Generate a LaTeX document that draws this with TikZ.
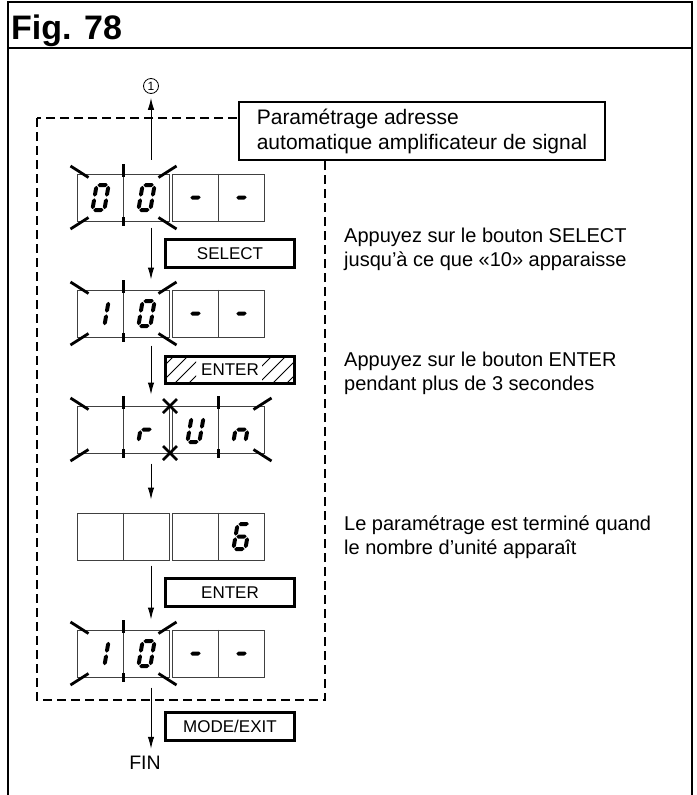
\documentclass[tikz,border=0pt]{standalone}
\usepackage{fontspec}
\setmainfont{Liberation Sans}
\usetikzlibrary{arrows.meta, positioning, calc}

% seven segment pieces (local units, y down, centre of digit = origin)
\newcommand{\hseg}[1]{\fill (-5.2,#1) -- (-3.2,{#1-2}) -- (3.2,{#1-2}) -- (5.2,#1) -- (3.2,{#1+2}) -- (-3.2,{#1+2}) -- cycle;}
\newcommand{\vseg}[3]{\fill (#1,{#2+0.8}) -- ({#1+2},{#2+2.8}) -- ({#1+2},{#3-2.8}) -- (#1,{#3-0.8}) -- ({#1-2},{#3-2.8}) -- ({#1-2},{#2+2.8}) -- cycle;}
\newcommand{\sega}{\hseg{-12.5}}
\newcommand{\segg}{\hseg{0}}
\newcommand{\segd}{\hseg{12.5}}
\newcommand{\segb}{\vseg{6}{-12.5}{0}}
\newcommand{\segc}{\vseg{6}{0}{12.5}}
\newcommand{\sege}{\vseg{-6}{0}{12.5}}
\newcommand{\segf}{\vseg{-6}{-12.5}{0}}
\newcommand{\lcd}[3]{\begin{scope}[shift={(#1,#2)}, xslant=0.17]
  \foreach \s in {#3} {\csname seg\s\endcsname}
\end{scope}}

% blinking marks: left, right, top, bottom, middle lines
\newcommand{\blink}[5]{%
  \draw[tick] ({#1-7},{#3-8}) -- ({#1+11},{#3+3.5});
  \draw[tick] ({#2+7},{#3-8}) -- ({#2-11},{#3+3.5});
  \draw[tick] ({#1-7},{#4+8}) -- ({#1+11},{#4-3.5});
  \draw[tick] ({#2+7},{#4+8}) -- ({#2-11},{#4-3.5});
  \foreach \m in {#5} {
    \draw[tick] (\m,{#3-10}) -- (\m,{#3+3});
    \draw[tick] (\m,{#4-4}) -- (\m,{#4+5});
  }}

\tikzset{
  frame/.style={line width=1.5},
  zone/.style={line width=1.2, dash pattern=on 9pt off 5pt},
  cellbox/.style={draw=black!75, line width=1, minimum width=92, minimum height=47, inner sep=0},
  cellline/.style={draw=black!75, line width=1},
  tick/.style={line width=2.8},
  flow/.style={line width=1, -{Latex[length=12pt, width=6.5pt]}},
  button/.style={draw, line width=2.6, minimum width=129.5, minimum height=27.5, inner sep=0, font=\fontsize{17}{20}\selectfont},
  note/.style={anchor=west, align=left, inner sep=0, font=\fontsize{20}{24.5}\selectfont},
  titlebox/.style={draw, fill=white, line width=1.2, minimum width=366, minimum height=58, inner xsep=17, align=left, font=\fontsize{21}{25}\selectfont}
}

\begin{document}
\begin{tikzpicture}[x=1pt, y=-1pt]
    \useasboundingbox (0,0) rectangle (696,795);

    % Frame & header
    \draw[frame] (8,795) -- (8,2) -- (692,2) -- (692,795);
    \draw[frame] (8,48) -- (692,48);
    \node[anchor=base west, inner sep=0, font=\bfseries\fontsize{34}{40}\selectfont] (fig) at (11,39) {Fig. 78};

    % Dashed zone and its title
    \draw[zone] (37,118) rectangle (325,700);
    \node[titlebox] (title) at (422,131) {Paramétrage adresse\\automatique amplificateur de signal};

    % Displays: two boxes of two cells each
    \foreach \n/\y in {1/197.5, 2/313.5, 3/429.5, 4/536.5, 5/653.5} {
        \node[cellbox] (d\n a) at (123.5,\y) {};
        \node[cellbox] (d\n b) at (218.5,\y) {};
        \draw[cellline] (d\n a.north) -- (d\n a.south) (d\n b.north) -- (d\n b.south);
    }

    % Display 1: 0 0 - -
    \lcd{100.5}{197.5}{a,b,c,d,e,f}
    \lcd{146.5}{197.5}{a,b,c,d,e,f}
    \lcd{195.5}{197.5}{g}
    \lcd{241.5}{197.5}{g}
    \blink{77.5}{169.5}{174}{221}{123.5}

    % Display 2: 1 0 - -
    \lcd{100.5}{313.5}{b,c}
    \lcd{146.5}{313.5}{a,b,c,d,e,f}
    \lcd{195.5}{313.5}{g}
    \lcd{241.5}{313.5}{g}
    \blink{77.5}{169.5}{290}{337}{123.5}

    % Display 3: _ r U n
    \lcd{146.5}{429.5}{e,g}
    \lcd{195.5}{429.5}{b,c,d,e,f}
    \lcd{241.5}{429.5}{c,e,g}
    \blink{77.5}{264.5}{406}{453}{123.5,218.5}
    \draw[tick] (163,399) -- (177,413) (177,399) -- (163,413);
    \draw[tick] (163,446) -- (177,460) (177,446) -- (163,460);

    % Display 4: unit count
    \lcd{241.5}{536.5}{a,c,d,e,f,g}

    % Display 5: 1 0 - -
    \lcd{100.5}{653.5}{b,c}
    \lcd{146.5}{653.5}{a,b,c,d,e,f}
    \lcd{195.5}{653.5}{g}
    \lcd{241.5}{653.5}{g}
    \blink{77.5}{169.5}{630}{677}{123.5}

    % Buttons
    \node[button] (sel) at (230,253.5) {SELECT};
    \node[button] (ent1) at (230,370) {ENTER};
    \begin{scope}
        \clip (165.5,356.5) rectangle (196,383.5) (262,356.5) rectangle (294.5,383.5);
        \foreach \k in {0,...,12} \draw[line width=0.8] ({138+14*\k},392) -- ++(40,-40);
    \end{scope}
    \node[button] (ent2) at (230,592.5) {ENTER};
    \node[button] (mode) at (230,726.5) {MODE/EXIT};

    % Start and end
    \coordinate (ax) at (151,0);
    \node[circle, draw, line width=0.8, inner sep=0, minimum size=15, font=\fontsize{12}{12}\selectfont] (c1) at (151,86) {1};
    \node[font=\fontsize{19.5}{22}\selectfont] (fin) at (145,763) {FIN};

    % Flow arrows
    \draw[flow, shorten <=14, shorten >=4] (d1a.north -| ax) -- (c1);
    \draw[flow, shorten <=6, shorten >=10] (d1a.south -| ax) -- (d2a.north -| ax);
    \draw[flow, shorten <=8, shorten >=11] (d2a.south -| ax) -- (d3a.north -| ax);
    \draw[flow, shorten <=10, shorten >=13] (d3a.south -| ax) -- (d4a.north -| ax);
    \draw[flow, shorten <=5, shorten >=10] (d4a.south -| ax) -- (d5a.north -| ax);
    \draw[flow, shorten <=10, shorten >=4] (d5a.south -| ax) -- (fin.north -| ax);

    % Notes
    \node[note] (n1) at (344,249.5) {Appuyez sur le bouton SELECT\\jusqu’à ce que «10» apparaisse};
    \node[note] (n2) at (344,373.5) {Appuyez sur le bouton ENTER\\pendant plus de 3 secondes};
    \node[note] (n3) at (344,537) {Le paramétrage est terminé quand\\le nombre d’unité apparaît};
\end{tikzpicture}
\end{document}
